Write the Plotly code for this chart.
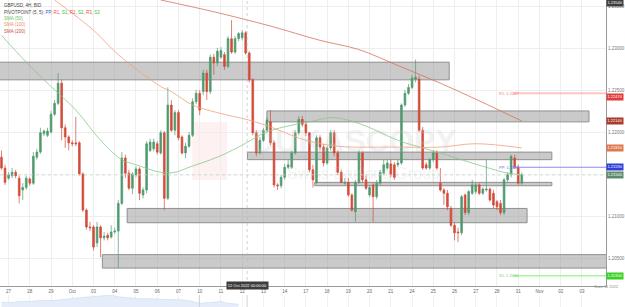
import plotly.graph_objects as go

# ---------------- data ----------------
open_ = [1.2171,1.2158,1.2146,1.2149,1.2153,1.2146,1.2132,1.2135,1.2145,1.2140,
 1.2171,1.2177,1.2199,1.2197,1.2201,1.2222,1.2235,1.2259,1.2206,1.2195,
 1.2188,1.2188,1.2188,1.2151,1.2108,1.2088,1.2088,1.2069,1.2088,1.2075,
 1.2078,1.2076,1.2082,1.2083,1.2116,1.2170,1.2152,1.2134,1.2150,1.2157,
 1.2126,1.2132,1.2179,1.2181,1.2187,1.2176,1.2200,1.2122,1.2233,1.2203,
 1.2224,1.2195,1.2176,1.2184,1.2197,1.2237,1.2247,1.2249,1.2271,1.2249,
 1.2290,1.2283,1.2290,1.2293,1.2279,1.2312,1.2296,1.2312,1.2313,1.2319,
 1.2295,1.2263,1.2200,1.2176,1.2191,1.2203,1.2213,1.2188,1.2138,1.2137,
 1.2147,1.2159,1.2159,1.2176,1.2200,1.2216,1.2210,1.2200,1.2156,1.2141,
 1.2194,1.2183,1.2164,1.2182,1.2200,1.2176,1.2153,1.2140,1.2141,1.2126,
 1.2106,1.2141,1.2176,1.2144,1.2126,1.2138,1.2124,1.2140,1.2152,1.2158,
 1.2163,1.2162,1.2162,1.2164,1.2233,1.2247,1.2254,1.2264,1.2264,1.2203,
 1.2162,1.2158,1.2168,1.2176,1.2140,1.2132,1.2128,1.2110,1.2090,1.2082,
 1.2081,1.2126,1.2105,1.2128,1.2130,1.2138,1.2128,1.2132,1.2133,1.2128,
 1.2118,1.2116,1.2105,1.2144,1.2150,1.2170,1.2159,1.2140]
high = [1.2179,1.2162,1.2153,1.2158,1.2156,1.2149,1.2140,1.2149,1.2147,1.2177,
 1.2181,1.2206,1.2204,1.2206,1.2226,1.2239,1.2271,1.2263,1.2210,1.2197,
 1.2191,1.2219,1.2190,1.2153,1.2110,1.2094,1.2090,1.2094,1.2090,1.2082,
 1.2081,1.2090,1.2087,1.2120,1.2177,1.2174,1.2156,1.2153,1.2160,1.2159,
 1.2135,1.2190,1.2193,1.2193,1.2190,1.2203,1.2202,1.2254,1.2239,1.2227,
 1.2227,1.2197,1.2188,1.2201,1.2241,1.2251,1.2251,1.2275,1.2275,1.2293,
 1.2294,1.2301,1.2302,1.2296,1.2315,1.2334,1.2315,1.2320,1.2322,1.2321,
 1.2297,1.2265,1.2203,1.2195,1.2206,1.2218,1.2227,1.2191,1.2140,1.2150,
 1.2163,1.2168,1.2179,1.2203,1.2220,1.2220,1.2213,1.2201,1.2162,1.2197,
 1.2197,1.2187,1.2184,1.2203,1.2203,1.2179,1.2156,1.2146,1.2146,1.2128,
 1.2144,1.2179,1.2178,1.2149,1.2138,1.2140,1.2144,1.2156,1.2168,1.2168,
 1.2168,1.2165,1.2168,1.2235,1.2251,1.2258,1.2269,1.2287,1.2268,1.2207,
 1.2165,1.2170,1.2179,1.2179,1.2158,1.2134,1.2132,1.2113,1.2093,1.2087,
 1.2126,1.2128,1.2132,1.2144,1.2140,1.2140,1.2135,1.2168,1.2135,1.2132,
 1.2120,1.2120,1.2146,1.2153,1.2174,1.2174,1.2162,1.2153]
low = [1.2156,1.2138,1.2144,1.2146,1.2146,1.2116,1.2120,1.2132,1.2137,1.2138,
 1.2168,1.2175,1.2196,1.2195,1.2199,1.2220,1.2233,1.2191,1.2182,1.2179,
 1.2184,1.2184,1.2149,1.2106,1.2085,1.2083,1.2060,1.2064,1.2052,1.2072,
 1.2072,1.2074,1.2080,1.2039,1.2114,1.2146,1.2132,1.2127,1.2147,1.2120,
 1.2122,1.2128,1.2177,1.2178,1.2174,1.2174,1.2108,1.2120,1.2201,1.2197,
 1.2191,1.2174,1.2170,1.2182,1.2195,1.2234,1.2221,1.2245,1.2239,1.2246,
 1.2269,1.2279,1.2288,1.2275,1.2277,1.2294,1.2294,1.2309,1.2310,1.2293,
 1.2260,1.2197,1.2172,1.2174,1.2189,1.2201,1.2185,1.2135,1.2132,1.2134,
 1.2144,1.2157,1.2157,1.2174,1.2197,1.2207,1.2196,1.2153,1.2135,1.2139,
 1.2179,1.2160,1.2162,1.2179,1.2172,1.2150,1.2140,1.2138,1.2124,1.2106,
 1.2094,1.2139,1.2141,1.2132,1.2124,1.2094,1.2121,1.2138,1.2150,1.2156,
 1.2147,1.2144,1.2159,1.2162,1.2231,1.2245,1.2252,1.2260,1.2201,1.2156,
 1.2156,1.2156,1.2165,1.2156,1.2130,1.2114,1.2108,1.2088,1.2072,1.2070,
 1.2078,1.2102,1.2102,1.2126,1.2127,1.2126,1.2126,1.2130,1.2118,1.2110,
 1.2108,1.2102,1.2102,1.2141,1.2147,1.2157,1.2138,1.2138]
close = [1.2158,1.2141,1.2150,1.2153,1.2149,1.2125,1.2135,1.2146,1.2140,1.2172,
 1.2177,1.2200,1.2202,1.2202,1.2222,1.2235,1.2259,1.2206,1.2195,1.2188,
 1.2187,1.2187,1.2151,1.2108,1.2088,1.2087,1.2064,1.2088,1.2075,1.2077,
 1.2075,1.2082,1.2083,1.2116,1.2170,1.2152,1.2134,1.2151,1.2157,1.2128,
 1.2132,1.2187,1.2189,1.2189,1.2177,1.2200,1.2122,1.2233,1.2203,1.2224,
 1.2194,1.2176,1.2184,1.2197,1.2237,1.2247,1.2227,1.2271,1.2249,1.2290,
 1.2283,1.2297,1.2298,1.2279,1.2312,1.2296,1.2312,1.2318,1.2319,1.2295,
 1.2263,1.2200,1.2176,1.2191,1.2203,1.2215,1.2188,1.2138,1.2137,1.2147,
 1.2159,1.2162,1.2176,1.2200,1.2216,1.2210,1.2200,1.2156,1.2144,1.2194,
 1.2183,1.2164,1.2182,1.2200,1.2176,1.2153,1.2141,1.2141,1.2126,1.2108,
 1.2141,1.2176,1.2144,1.2134,1.2135,1.2124,1.2140,1.2153,1.2162,1.2164,
 1.2150,1.2147,1.2164,1.2233,1.2247,1.2254,1.2265,1.2266,1.2203,1.2158,
 1.2158,1.2168,1.2176,1.2158,1.2132,1.2128,1.2112,1.2090,1.2081,1.2081,
 1.2124,1.2105,1.2130,1.2138,1.2138,1.2128,1.2133,1.2133,1.2120,1.2114,
 1.2112,1.2105,1.2144,1.2150,1.2172,1.2159,1.2140,1.2150]
candle_idx = list(range(len(open_)))

# moving averages (candle index, price)
sma50_x = [0, 7, 12, 21, 28, 34, 38, 45, 49, 53, 61, 67, 75, 82, 87, 93, 97, 103, 112, 119, 124, 133, 143, 147]
sma50_y = [1.2316, 1.2284, 1.2263, 1.2227, 1.2191, 1.2168, 1.2162, 1.2153, 1.2153, 1.2159, 1.2171, 1.2183,
           1.2201, 1.2209, 1.2213, 1.2218, 1.2216, 1.2208, 1.2191, 1.2182, 1.2176, 1.2164, 1.2152, 1.2150]
sma100_x = [15, 26, 33, 45, 48, 54, 61, 70, 76, 82, 87, 95, 112, 124, 134, 147]
sma100_y = [1.2358, 1.2322, 1.2293, 1.2255, 1.2249, 1.2233, 1.2224, 1.2215, 1.2207, 1.2197, 1.2190, 1.2184,
            1.2183, 1.2183, 1.2187, 1.2182]
sma200_x = [45, 60, 76, 90, 101, 112, 124, 135, 147]
sma200_y = [1.2358, 1.2344, 1.2327, 1.2310, 1.2299, 1.2280, 1.2259, 1.2238, 1.2214]

# support / resistance zones
zone_x0 = [-1, 75, 69.5, 88.5, 35.5, 28.5]
zone_x1 = [126.5, 166, 155.5, 155.5, 148.5, 172]
zone_lo = [1.2263, 1.2213, 1.2168, 1.2137, 1.2093, 1.2039]
zone_hi = [1.2284, 1.2226, 1.2177, 1.2141, 1.2110, 1.2055]

# pivot points (current period)
pivot_names = ["R1", "PP", "S1"]
pivot_vals = [1.2247, 1.2159, 1.2030]
pivot_start = 140

# axis labels
day_labels = ["27", "28", "29", "Oct", "03", "04", "05", "06", "07", "10", "11", "12", "13", "14",
              "17", "18", "19", "20", "21", "24", "25", "26", "27", "28", "31", "Nov", "02", "03"]
price_ticks = [1.235, 1.230, 1.225, 1.220, 1.210, 1.205]

# navigator (overview) series
nav_x = [0, 3, 5, 8, 11, 14, 17, 19, 22, 25, 28, 31, 33, 36, 39, 42, 45, 47, 50, 53, 56, 59, 62, 64, 67]
nav_v = [5, 5, 6, 6, 7, 7, 8, 9, 10, 11, 12, 13, 11, 10, 9, 9, 8, 8, 8, 7, 4, 5, 6, 4, 3]

GREEN = "#4f9a6f"
RED = "#d34b3a"
FONT = "Liberation Sans, Arial, sans-serif"

fig = go.Figure()

fig.add_trace(go.Candlestick(
    x=candle_idx, open=open_, high=high, low=low, close=close,
    increasing=dict(line=dict(color=GREEN, width=0.7), fillcolor=GREEN),
    decreasing=dict(line=dict(color=RED, width=0.7), fillcolor=RED),
    whiskerwidth=0, showlegend=False, hoverinfo="skip"))

fig.add_trace(go.Scatter(x=sma50_x, y=sma50_y, mode="lines",
                         line=dict(color="#86c986", width=0.8, shape="spline"), showlegend=False))
fig.add_trace(go.Scatter(x=sma100_x, y=sma100_y, mode="lines",
                         line=dict(color="#f2a07e", width=0.8, shape="spline"), showlegend=False))
fig.add_trace(go.Scatter(x=sma200_x, y=sma200_y, mode="lines",
                         line=dict(color="#d9705a", width=0.8, shape="spline"), showlegend=False))

pivot_colors = ["rgba(255,150,150,0.55)", "#8c8cf5", "#a6f59a"]
pivot_widths = [2, 1, 1.5]
pivot_text_colors = ["#f08080", "#7070e8", "#6ee05a"]
for name, v, c, w, tc in zip(pivot_names, pivot_vals, pivot_colors, pivot_widths, pivot_text_colors):
    fig.add_trace(go.Scatter(x=[pivot_start + 4.5, 172], y=[v, v], mode="lines",
                             line=dict(color=c, width=w), showlegend=False, hoverinfo="skip"))
    fig.add_annotation(x=pivot_start, y=v, xref="x", yref="y", text=f"{name}: {v:.4f}",
                       showarrow=False, xanchor="left", yanchor="middle",
                       font=dict(size=4, color=tc, family=FONT))

fig.add_trace(go.Scatter(x=nav_x, y=nav_v, mode="lines", fill="tozeroy",
                         fillcolor="#e4edf9", line=dict(color="#cadbf2", width=0.6),
                         xaxis="x2", yaxis="y2", showlegend=False, hoverinfo="skip"))

shapes = []
for x0, x1, lo, hi in zip(zone_x0, zone_x1, zone_lo, zone_hi):
    shapes.append(dict(type="rect", xref="x", yref="y", x0=x0, x1=x1, y0=lo, y1=hi,
                       fillcolor="rgba(150,150,150,0.5)", line=dict(color="#8f8f8f", width=1),
                       layer="between"))

main_bottom = 21 / 307
# crosshair & current-price guide
shapes.append(dict(type="line", xref="x", yref="paper", x0=69.4, x1=69.4, y0=main_bottom, y1=1,
                   line=dict(color="#bdbdbd", width=0.7, dash="dot")))
shapes.append(dict(type="line", xref="paper", yref="y", x0=0, x1=1, y0=close[-1], y1=close[-1],
                   line=dict(color="#c8d8c8", width=0.8, dash="dot")))
# watermark logo
shapes.append(dict(type="rect", xref="paper", yref="paper", x0=193/608, x1=228/608,
                   y0=1-180/307, y1=1-122/307, fillcolor="rgba(235,120,120,0.10)",
                   line=dict(width=0), layer="below"))
# navigator marks
for xv in [55.9, 69.4]:
    shapes.append(dict(type="line", xref="x2", yref="paper", x0=xv, x1=xv, y0=0, y1=12/307,
                       line=dict(color="#c8c8c8", width=0.8)))
# gridline at the level whose label is hidden behind the value box
shapes.append(dict(type="line", xref="paper", yref="y", x0=0, x1=1, y0=1.215, y1=1.215,
                   line=dict(color="#eeeeee", width=0.6), layer="below"))

fig.update_layout(
    width=625, height=307, margin=dict(l=0, r=17, t=0, b=0),
    paper_bgcolor="white", plot_bgcolor="white",
    font=dict(family=FONT, size=5, color="#555"),
    shapes=shapes, showlegend=False,
    xaxis=dict(domain=[0, 1], range=[-0.42, 170.8], anchor="y",
               tickmode="array", tickvals=[2 + 6 * k for k in range(len(day_labels))], ticktext=day_labels,
               tickfont=dict(size=4.5, color="#666"), ticks="",
               showgrid=True, gridcolor="#eeeeee", gridwidth=0.6, zeroline=False,
               showline=True, linecolor="#9a9a9a", linewidth=1.2,
               rangeslider=dict(visible=False), fixedrange=True),
    yaxis=dict(domain=[main_bottom, 1], range=[1.20177, 1.2358], side="right", anchor="x",
               tickmode="array", tickvals=price_ticks, ticktext=[f"{v:.5f}" for v in price_ticks],
               tickfont=dict(size=4.5, color="#777"), ticks="",
               showgrid=True, gridcolor="#eeeeee", gridwidth=0.6, zeroline=False,
               showline=True, linecolor="#9a9a9a", linewidth=1.2, fixedrange=True),
    xaxis2=dict(domain=[0, 1], range=[-0.42, 170.8], anchor="y2", showticklabels=False,
                tickmode="array", tickvals=[2 + 6 * k for k in range(len(day_labels))],
                showgrid=True, gridcolor="#f0f0f0", zeroline=False, showline=False),
    yaxis2=dict(domain=[0, 12/307], range=[0, 13], visible=False),
)

# watermark text
fig.add_annotation(xref="paper", yref="paper", x=355/608, y=1-141/307, text="<b>DUKASCOPY</b>",
                   showarrow=False, font=dict(size=32, color="rgba(200,200,200,0.22)", family=FONT))
fig.add_annotation(xref="paper", yref="paper", x=365/608, y=1-173/307, text="Swiss Banking Group",
                   showarrow=False, font=dict(size=16, color="rgba(200,200,200,0.22)", family=FONT))

# header / legend text
hdr = [
    ("GBPUSD, 4H, BID", 5),
    ("PIVOTPOINT (5, 5): <span style='color:#4a4af0'>PP</span>, <span style='color:#f05050'>R1</span>, "
     "<span style='color:#40c040'>S1</span>, <span style='color:#f05050'>R2</span>, "
     "<span style='color:#40c040'>S2</span>, <span style='color:#f05050'>R3</span>, "
     "<span style='color:#40c040'>S3</span>", 12),
    ("<span style='color:#6cbf6c'>SMA (50)</span>", 18),
    ("<span style='color:#f08a6a'>SMA (100)</span>", 24.5),
    ("<span style='color:#c9553f'>SMA (200)</span>", 31),
]
for txt, ypx in hdr:
    fig.add_annotation(xref="paper", yref="paper", x=0.004, y=1 - ypx/307, text=txt,
                       showarrow=False, xanchor="left", yanchor="middle",
                       font=dict(size=4.5, color="#444", family=FONT))

# right axis value boxes
boxes = [(1.2354, "#3c3c3c", "middle"), (pivot_vals[0], "#e23b3b", "top"),
         (sma200_y[-1], "#a93a2c", "middle"), (sma100_y[-1], "#e0784f", "middle"),
         (pivot_vals[1], "#2f3fd8", "middle"), (close[-1], "#5d8c6c", "middle"),
         (pivot_vals[2], "#3ccf26", "middle")]
for v, c, ya in boxes:
    fig.add_annotation(xref="paper", yref="y", x=1.0, y=v, text=f"{v:.5f}", showarrow=False,
                       xanchor="left", yanchor=ya, bgcolor=c, borderpad=0.4,
                       font=dict(size=4, color="white", family=FONT))

# crosshair date label and right-bottom date box
fig.add_annotation(xref="x", yref="paper", x=69.4, y=1 - 290/307, text="12 Oct 2022 00:00:00",
                   showarrow=False, bgcolor="#3c3c3c", borderpad=0.8,
                   font=dict(size=4, color="white", family=FONT))
fig.add_annotation(xref="paper", yref="paper", x=1.0, y=1 - 290/307, text="Date 11 2022",
                   showarrow=False, xanchor="center", borderpad=0.5,
                   font=dict(size=4, color="#888", family=FONT))

fig.write_html("out.html")
